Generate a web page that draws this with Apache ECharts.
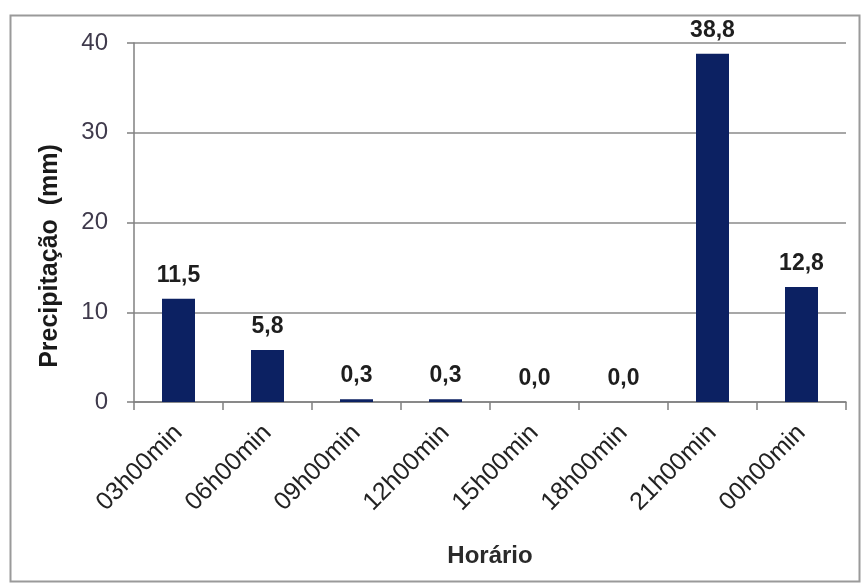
<!DOCTYPE html>
<html>
<head>
<meta charset="utf-8">
<script src="https://cdn.jsdelivr.net/npm/echarts@6/dist/echarts.min.js"></script>
<style>
  html, body { margin: 0; padding: 0; background: #ffffff; }
  #chart { width: 862px; height: 586px; }
</style>
</head>
<body>
<div id="chart"></div>
<script>
// Hourly rainfall readings
const horarios = ['03h00min', '06h00min', '09h00min', '12h00min', '15h00min', '18h00min', '21h00min', '00h00min'];
const precipitacao = [11.5, 5.8, 0.3, 0.3, 0.0, 0.0, 38.8, 12.8];
const yTicks = { min: 0, max: 40, interval: 10 };
const yTitle = 'Precipitação  (mm)';

const chart = echarts.init(document.getElementById('chart'));
const font = 'Liberation Sans, Arial, sans-serif';

chart.setOption({
  backgroundColor: '#ffffff',
  animation: false,
  graphic: [{
    type: 'rect',
    shape: { x: 10.5, y: 15.5, width: 849, height: 566 },
    style: { fill: 'none', stroke: '#9a9a9a', lineWidth: 2 },
    silent: true
  }, {
    // vertical axis title, set a little below the plot's middle
    type: 'text',
    x: 50,
    y: 256,
    rotation: Math.PI / 2,
    style: {
      text: yTitle,
      font: 'bold 25px ' + font,
      fill: '#1a1a1a',
      align: 'center',
      verticalAlign: 'middle'
    },
    silent: true
  }],
  grid: { left: 134, right: 16, top: 43, bottom: 184 },
  xAxis: {
    type: 'category',
    data: horarios,
    name: 'Horário',
    nameLocation: 'middle',
    nameGap: 142,
    nameTextStyle: { fontFamily: font, fontSize: 24, fontWeight: 'bold', color: '#2a2a2a' },
    axisLine: { lineStyle: { color: '#808080', width: 1.5 } },
    axisTick: { show: true, length: 8, alignWithLabel: false, lineStyle: { color: '#808080', width: 1.5 } },
    axisLabel: { rotate: 45, margin: 27, fontFamily: font, fontSize: 25, color: '#222222', interval: 0 }
  },
  yAxis: {
    type: 'value',
    min: yTicks.min,
    max: yTicks.max,
    interval: yTicks.interval,
    axisLine: { show: true, lineStyle: { color: '#808080', width: 1.5 } },
    axisTick: { show: true, length: 7, lineStyle: { color: '#808080', width: 1.5 } },
    axisLabel: { margin: 26, fontFamily: font, fontSize: 24, color: '#3f3a4c' },
    splitLine: { lineStyle: { color: '#8a8a8a', width: 1.5 } }
  },
  series: [{
    type: 'bar',
    data: precipitacao,
    barWidth: 33,
    itemStyle: { color: '#0c2162' },
    label: {
      show: true,
      position: 'top',
      distance: 12,
      fontFamily: font,
      fontSize: 23,
      fontWeight: 'bold',
      color: '#1e1e1e',
      formatter: p => p.value.toFixed(1).replace('.', ',')
    }
  }]
});
</script>
</body>
</html>
